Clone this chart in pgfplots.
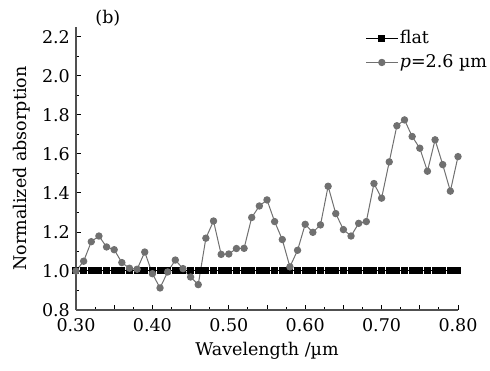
\documentclass[border=0pt]{standalone}
\usepackage{fontspec}
\setmainfont{DejaVu Serif}
\usepackage{pgfplots}
\pgfplotsset{compat=1.18}
\definecolor{grayser}{RGB}{112,112,112}
\definecolor{axgray}{RGB}{80,80,80}
\begin{document}
\fontsize{10.5}{12.5}\selectfont
\begin{tikzpicture}
\path[use as bounding box] (-45.6pt,-36pt) rectangle (248.4pt,186pt);
\begin{axis}[at={(0,0)}, anchor=south west, scale only axis,
  width=229.2pt, height=169.8pt,
  xmin=0.30, xmax=0.80, ymin=0.8, ymax=2.25,
  axis lines*=left, tick align=inside, clip=false,
  /pgf/number format/assume math mode=true,
  axis line style={axgray, line width=0.7pt},
  every tick/.style={black, line width=0.5pt},
  major tick length=3pt, minor tick length=1.8pt,
  xtick={0.30,0.35,...,0.81},
  xticklabels={0.30,,0.40,,0.50,,0.60,,0.70,,0.80},
  xticklabel style={yshift=-1.5pt},
  minor x tick num=1,
  ytick={0.8,1.0,...,2.21},
  minor y tick num=1,
  yticklabel style={/pgf/number format/.cd, fixed, fixed zerofill, precision=1, assume math mode=true},
  xlabel={Wavelength /µm}, ylabel={Normalized absorption},
  xlabel style={yshift=1pt},
  legend style={at={(0.757,0.995)}, anchor=north west, draw=none, fill=none,
    inner sep=0pt, row sep=3pt, nodes={inner sep=1pt}},
  legend cell align=left,
  legend image code/.code={\draw[mark repeat=2,mark phase=2,#1] plot coordinates {(0pt,0pt) (9.5pt,0pt) (19pt,0pt)};},
]
\addplot[black, line width=0.6pt, mark=square*, mark size=1.8pt, mark options={solid}] coordinates {
(0.30,1) (0.31,1) (0.32,1) (0.33,1) (0.34,1) (0.35,1) (0.36,1) (0.37,1) (0.38,1) (0.39,1)
(0.40,1) (0.41,1) (0.42,1) (0.43,1) (0.44,1) (0.45,1) (0.46,1) (0.47,1) (0.48,1) (0.49,1)
(0.50,1) (0.51,1) (0.52,1) (0.53,1) (0.54,1) (0.55,1) (0.56,1) (0.57,1) (0.58,1) (0.59,1)
(0.60,1) (0.61,1) (0.62,1) (0.63,1) (0.64,1) (0.65,1) (0.66,1) (0.67,1) (0.68,1) (0.69,1)
(0.70,1) (0.71,1) (0.72,1) (0.73,1) (0.74,1) (0.75,1) (0.76,1) (0.77,1) (0.78,1) (0.79,1)
(0.80,1)};
\addlegendentry{flat}
\addplot[grayser, line width=0.6pt, mark=*, mark size=1.9pt, mark options={fill=grayser, draw=grayser}] coordinates {
(0.30,1.000) (0.31,1.050) (0.32,1.150) (0.33,1.179) (0.34,1.123) (0.35,1.109)
(0.36,1.043) (0.37,1.014) (0.38,1.009) (0.39,1.097) (0.40,0.986) (0.41,0.913)
(0.42,0.995) (0.43,1.056) (0.44,1.012) (0.45,0.969) (0.46,0.930) (0.47,1.168)
(0.48,1.256) (0.49,1.085) (0.50,1.087) (0.51,1.115) (0.52,1.116) (0.53,1.274)
(0.54,1.333) (0.55,1.364) (0.56,1.253) (0.57,1.161) (0.58,1.021) (0.59,1.106)
(0.60,1.239) (0.61,1.198) (0.62,1.236) (0.63,1.434) (0.64,1.294) (0.65,1.212)
(0.66,1.179) (0.67,1.244) (0.68,1.253) (0.69,1.448) (0.70,1.373) (0.71,1.559)
(0.72,1.744) (0.73,1.774) (0.74,1.689) (0.75,1.629) (0.76,1.511) (0.77,1.672)
(0.78,1.545) (0.79,1.409) (0.80,1.586)};
\addlegendentry{\textit{p}=2.6 µm}
\node[anchor=base west, inner sep=0pt] at (rel axis cs:0.05,1.011) {(b)};
\end{axis}
\end{tikzpicture}
\end{document}
